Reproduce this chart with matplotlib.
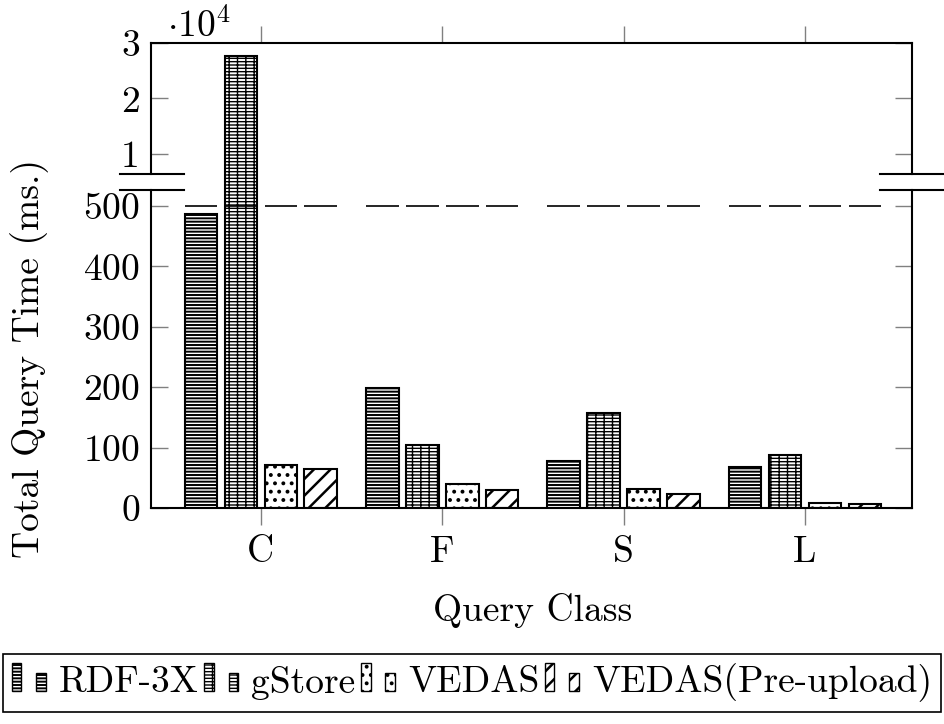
import matplotlib
matplotlib.use('Agg')
import matplotlib.pyplot as plt
import numpy as np
from matplotlib.lines import Line2D
from matplotlib.patches import Rectangle, Patch

plt.rcParams['font.family'] = 'cmr10'
plt.rcParams['mathtext.fontset'] = 'cm'
plt.rcParams['axes.unicode_minus'] = False
plt.rcParams['axes.formatter.use_mathtext'] = True

# data (ms)
categories = ['C', 'F', 'S', 'L']
rdf3x = [487, 199, 77, 68]
gstore = [27700, 104, 157, 88]
vedas = [71, 39, 31, 9]
vedas_pre = [64, 29, 23, 7]

# name, values, hatch, hatch line width
series = [
    ('RDF-3X', rdf3x, '-----', 1.4),
    ('gStore', gstore, '-----||', 1.0),
    ('VEDAS', vedas, '..', 1.6),
    ('VEDAS(Pre-upload)', vedas_pre, '//', 1.8),
]

FS = 27
W, H = 944, 724
fig = plt.figure(figsize=(W / 100, H / 100), dpi=100)

def px(x0, y0, x1, y1):
    return [x0 / W, 1 - y1 / H, (x1 - x0) / W, (y1 - y0) / H]

ax_top = fig.add_axes(px(151, 43, 912, 190))
ax_bot = fig.add_axes(px(151, 190, 912, 508))

x = np.arange(len(categories))
width = 0.18
step = 0.22
offsets = (np.arange(len(series)) - 1.5) * step


class TwoBarHandler:
    """pgfplots style legend image: a tall and a short bar."""
    def __init__(self, hlw):
        self.hlw = hlw

    def legend_artist(self, legend, orig_handle, fontsize, handlebox):
        x0, y0 = handlebox.xdescent, handlebox.ydescent
        w, h = handlebox.width, handlebox.height
        bw = 0.28 * w
        with plt.rc_context({'hatch.linewidth': self.hlw}):
            r1 = Rectangle((x0, y0), bw, h, facecolor='white', edgecolor='black',
                           hatch=orig_handle.get_hatch(), linewidth=1,
                           transform=handlebox.get_transform())
            r2 = Rectangle((x0 + w - bw, y0), bw, 0.65 * h, facecolor='white',
                           edgecolor='black', hatch=orig_handle.get_hatch(), linewidth=1,
                           transform=handlebox.get_transform())
        handlebox.add_artist(r1)
        handlebox.add_artist(r2)
        return r1


handles = []
handler_map = {}
for (name, vals, hatch, hlw), off in zip(series, offsets):
    with plt.rc_context({'hatch.linewidth': hlw}):
        for ax in (ax_top, ax_bot):
            ax.bar(x + off, vals, width, facecolor='white', edgecolor='black',
                   hatch=hatch, linewidth=1.5)
    # marker at the axis break level
    ax_bot.hlines(np.full(len(x), 500), x + off - width / 2, x + off + width / 2,
                  colors='black', linewidth=1.2)
    h = Patch(facecolor='white', edgecolor='black', hatch=hatch)
    handles.append(h)
    handler_map[h] = TwoBarHandler(hlw)

xlim = (-0.606, 3.59)
for ax in (ax_top, ax_bot):
    ax.set_xlim(*xlim)
    for s in ax.spines.values():
        s.set_linewidth(1.5)

# top panel (scaled by 10^4)
ax_top.set_ylim(3513, 30000)
ax_top.set_yticks([10000, 20000, 30000])
ax_top.set_yticklabels(['1', '2', '3'])
ax_top.spines['bottom'].set_visible(False)
ax_top.spines['left'].set_bounds(6396, 30000)
ax_top.spines['right'].set_bounds(6396, 30000)
ax_top.set_xticks(x)
ax_top.tick_params(axis='x', bottom=False, top=True, labelbottom=False, direction='out',
                   length=12, width=1, color='gray')
ax_top.tick_params(axis='y', left=True, right=True, direction='in', length=12, width=1,
                   color='gray', labelsize=FS, pad=8)

# bottom panel
ax_bot.set_ylim(0, 526.5)
ax_bot.set_yticks([0, 100, 200, 300, 400, 500])
ax_bot.spines['top'].set_visible(False)
ax_bot.set_xticks(x)
ax_bot.set_xticklabels(categories)
ax_bot.tick_params(axis='x', bottom=True, top=False, direction='out', length=12, width=1,
                   color='gray', labelsize=FS, pad=8)
ax_bot.tick_params(axis='y', left=True, right=True, direction='in', length=12, width=1,
                   color='gray', labelsize=FS, pad=8)

fig.text(167 / W, 1 - 37 / H, r'$\cdot 10^{4}$', ha='left', va='baseline', fontsize=FS)

# break marks
for yy in (174, 190):
    for x0, x1 in ((120, 184), (880, 944)):
        fig.add_artist(Line2D([x0 / W, x1 / W], [1 - yy / H, 1 - yy / H],
                              color='black', linewidth=1.5))

fig.text(30 / W, 1 - 359 / H, 'Total Query Time (ms.)', rotation=90,
         ha='center', va='center', fontsize=FS)
fig.text(533 / W, 1 - 610 / H, 'Query Class', ha='center', va='center', fontsize=FS)

leg = fig.legend(handles, [s[0] for s in series], loc='center',
                 bbox_to_anchor=(0.5, 1 - 683 / H), ncol=4, fontsize=FS,
                 handler_map=handler_map,
                 handlelength=0.9, handleheight=0.8, handletextpad=0.35,
                 columnspacing=0.15, borderpad=0.25, fancybox=False,
                 edgecolor='black', framealpha=1)
leg.get_frame().set_linewidth(1.2)

fig.savefig('out.png', dpi=100)
